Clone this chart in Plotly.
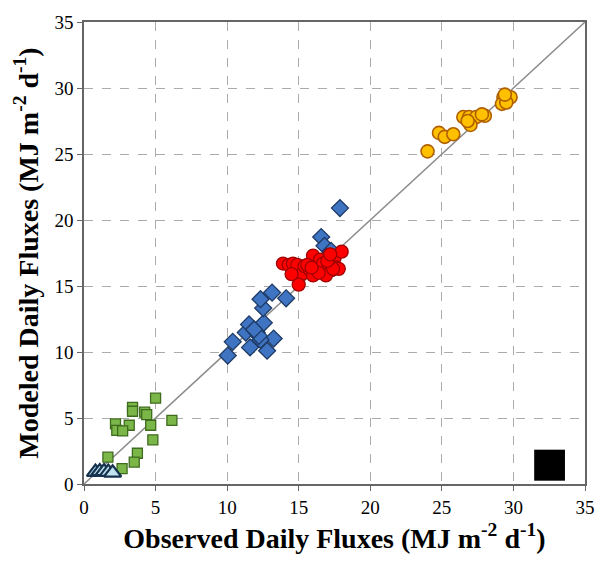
import plotly.graph_objects as go

# Data (observed x, modeled y)
tri_x = [0.8, 1.1, 1.4, 1.7, 2.0]
tri_y = [0.9, 0.95, 0.95, 0.9, 0.85]

green_x = [5.0, 3.39, 3.39, 4.24, 4.38, 6.14, 2.2, 3.16, 4.66, 2.29, 2.7, 4.81, 1.67, 3.73, 3.51, 2.66]
green_y = [6.5, 5.81, 5.51, 5.44, 5.26, 4.82, 4.56, 4.45, 4.45, 4.07, 4.02, 3.35, 2.03, 2.33, 1.66, 1.17]

blue_x = [10.04, 10.39, 11.6, 12.79, 13.25, 12.33, 11.3, 12.06, 12.22, 11.53, 12.56, 12.52, 12.33,
          13.14, 14.12, 11.88, 17.88, 16.57, 16.8, 17.26, 16.96, 15.66]
blue_y = [9.73, 10.77, 10.35, 10.1, 11.02, 10.92, 11.47, 11.47, 11.22, 12.09, 12.21, 13.33, 14.0,
          14.5, 14.07, 11.71, 20.9, 18.71, 18.04, 17.67, 17.18, 16.55]

red_x = [13.9, 14.3, 14.6, 14.9, 15.2, 15.4, 15.0, 14.5, 15.8, 16.0, 16.2, 16.5, 16.7, 16.9,
         17.1, 17.3, 17.5, 17.6, 17.8, 18.0, 16.0, 16.9, 17.4, 17.0, 16.4, 15.6, 15.9, 17.2]
red_y = [16.7, 16.6, 16.7, 16.6, 15.9, 16.5, 15.1, 15.9, 16.2, 17.3, 16.5, 17.0, 16.7, 16.0,
         16.3, 16.2, 17.1, 16.4, 16.3, 17.6, 15.8, 15.8, 16.3, 16.9, 16.0, 16.6, 16.4, 17.4]

orange_x = [24.0, 24.8, 25.2, 25.8, 26.5, 26.9, 27.4, 28.0, 27.0, 26.8, 27.8, 29.3, 29.8, 29.2, 29.5, 29.4]
orange_y = [25.2, 26.6, 26.3, 26.5, 27.8, 27.8, 27.8, 27.9, 27.2, 27.5, 28.0, 29.3, 29.3, 28.8, 28.9, 29.5]

axis_ticks = [0, 5, 10, 15, 20, 25, 30, 35]
line_1to1 = [0, 35]

fig = go.Figure()

fig.add_trace(go.Scatter(x=line_1to1, y=line_1to1, mode="lines",
                         line=dict(color="#8c8c8c", width=1.5), hoverinfo="skip"))

fig.add_trace(go.Scatter(x=green_x, y=green_y, mode="markers",
                         marker=dict(symbol="square", size=10, color="#7ab648",
                                     line=dict(color="#3f6b1f", width=1.3))))
fig.add_trace(go.Scatter(x=blue_x, y=blue_y, mode="markers",
                         marker=dict(symbol="diamond", size=13, color="#3f74c2",
                                     line=dict(color="#1e3a66", width=1.3))))
fig.add_trace(go.Scatter(x=red_x, y=red_y, mode="markers",
                         marker=dict(symbol="circle", size=13, color="#ff0000",
                                     line=dict(color="#a00000", width=1.3))))
fig.add_trace(go.Scatter(x=orange_x, y=orange_y, mode="markers",
                         marker=dict(symbol="circle", size=13, color="#ffc000",
                                     line=dict(color="#b05f00", width=1.6))))
fig.add_trace(go.Scatter(x=tri_x, y=tri_y, mode="markers",
                         marker=dict(symbol="triangle-up", size=15, color="#bfe3ef",
                                     line=dict(color="#16324f", width=2.2))))

# black square
fig.add_shape(type="rect", xref="x", yref="y", x0=31.45, x1=33.6, y0=0.25, y1=2.6,
              fillcolor="black", line=dict(width=0))

axis_common = dict(range=[0, 35], tickvals=axis_ticks, showgrid=True,
                   gridcolor="#ababab", griddash="dash", gridwidth=1,
                   showline=True, linecolor="#666666", linewidth=1.5, mirror=True,
                   ticks="outside", ticklen=5, tickcolor="#666666",
                   zeroline=False,
                   tickfont=dict(family="Liberation Serif", size=19, color="black"))

fig.update_xaxes(**axis_common,
                 title=dict(text="<b>Observed Daily Fluxes (MJ m<sup>-2</sup> d<sup>-1</sup>)</b>",
                            font=dict(family="Liberation Serif", size=28, color="black"),
                            standoff=12))
fig.update_yaxes(**axis_common,
                 title=dict(text="<b>Modeled Daily Fluxes (MJ m<sup>-2</sup> d<sup>-1</sup>)</b>",
                            font=dict(family="Liberation Serif", size=28, color="black"),
                            standoff=8))

fig.update_layout(width=607, height=563, showlegend=False,
                  plot_bgcolor="white", paper_bgcolor="white",
                  margin=dict(l=84, r=14, t=14, b=79),
                  font=dict(family="Liberation Serif"))

fig.write_html("out.html")
